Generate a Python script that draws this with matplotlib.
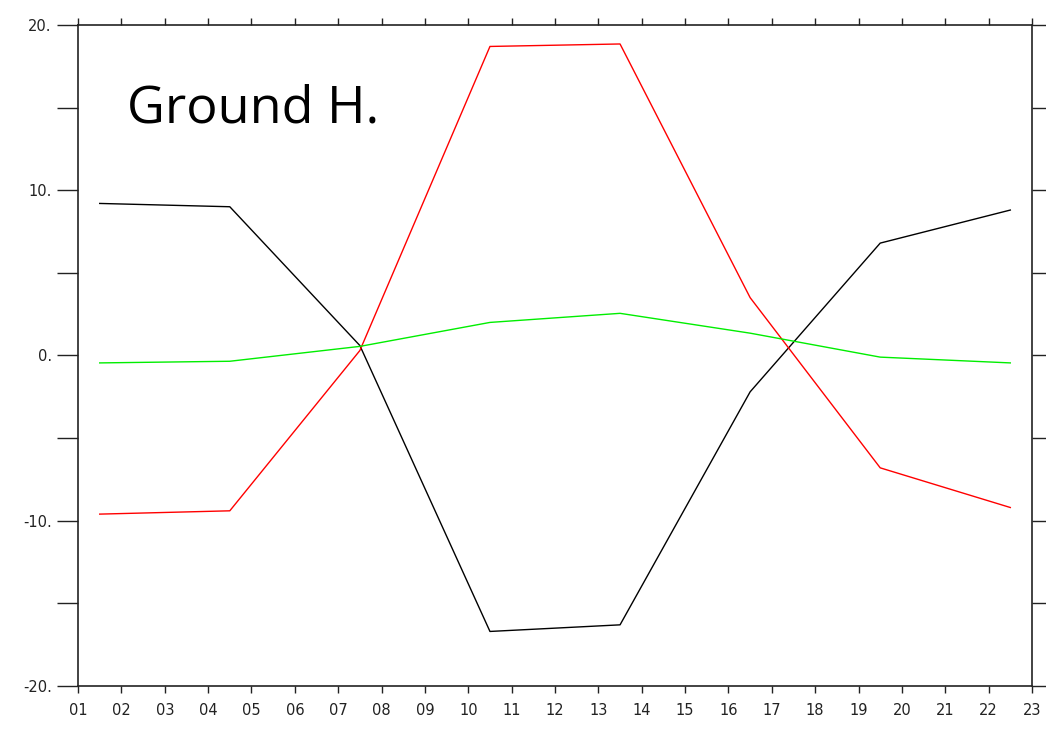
import matplotlib
matplotlib.use("Agg")
import matplotlib.pyplot as plt

# 3-hourly values (hour of day)
hours = [1.5, 4.5, 7.5, 10.5, 13.5, 16.5, 19.5, 22.5]
black = [9.2, 9.0, 0.6, -16.7, -16.3, -2.2, 6.8, 8.8]
red = [-9.6, -9.4, 0.3, 18.7, 18.85, 3.5, -6.8, -9.2]
green = [-0.45, -0.35, 0.55, 2.0, 2.55, 1.35, -0.1, -0.45]

xticks = list(range(1, 24))
xlabels = [f"{h:02d}" for h in xticks]
yticks = [-20, -10, 0, 10, 20]
ylabels = ["-20.", "-10.", "0.", "10.", "20."]

fig = plt.figure(figsize=(10.46, 7.3), dpi=100)
ax = fig.add_axes([0.0746, 0.0603, 0.912, 0.9055])

ax.plot(hours, black, color="black", lw=1)
ax.plot(hours, red, color="#ff0000", lw=1)
ax.plot(hours, green, color="#00ee00", lw=1)

ax.set_xlim(1, 23)
ax.set_ylim(-20, 20)
ax.set_xticks(xticks)
ax.set_xticklabels(xlabels)
ax.set_yticks(yticks)
ax.set_yticklabels(ylabels)
ax.set_yticks([-15, -5, 5, 15], minor=True)

ax.tick_params(axis="x", direction="out", length=5, width=1, top=True,
               labelsize=10.5, pad=7, colors="#222222")
ax.tick_params(axis="y", which="both", direction="out", length=15, width=1,
               right=True, labelsize=10.5, pad=4, colors="#222222")
for s in ax.spines.values():
    s.set_linewidth(1.2)
    s.set_color("#222222")

ax.text(0.051, 0.853, "Ground H.", transform=ax.transAxes,
        fontsize=37.5, family=["Open Sans", "DejaVu Sans"], va="baseline")

fig.savefig("out.png", dpi=100)
